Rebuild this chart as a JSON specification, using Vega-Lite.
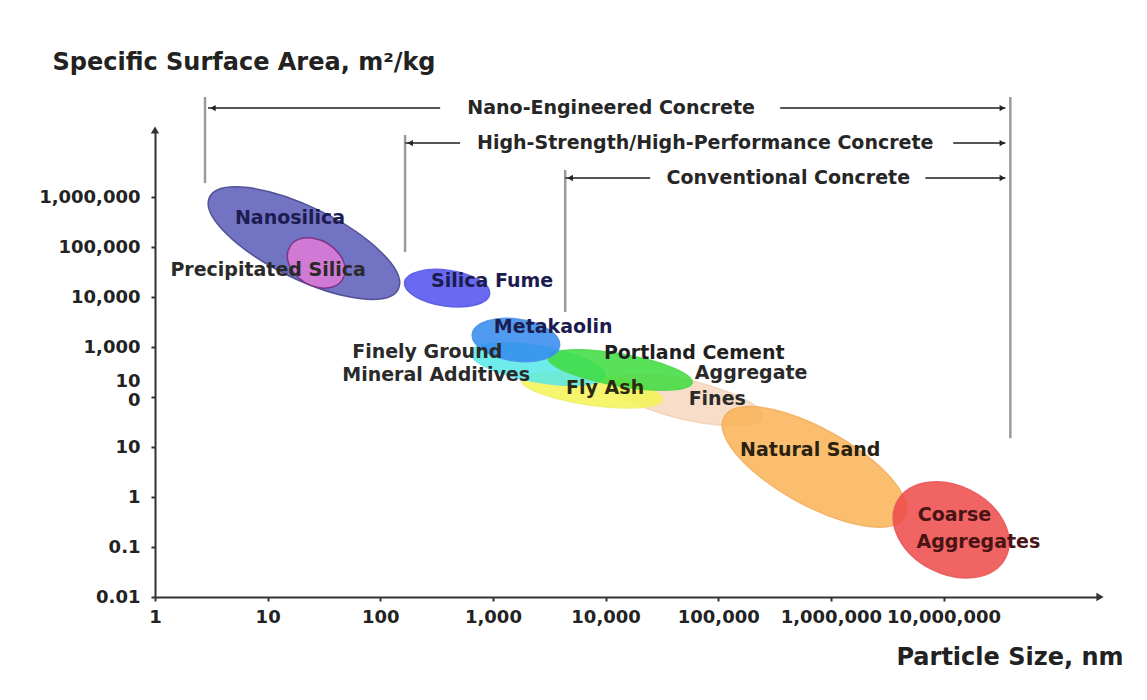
{
  "$schema": "https://vega.github.io/schema/vega-lite/v6.json",
  "width": 945,
  "height": 467,
  "autosize": {"type": "none"},
  "padding": {"left": 155, "top": 130, "right": 47, "bottom": 103},
  "background": "white",
  "config": {"view": {"stroke": null}, "font": "DejaVu Sans"},
  "datasets": {
    "ellipses": [
      {"material": "Nanosilica", "particle_size_nm": 21, "ssa_m2_per_kg": 120000},
      {"material": "Precipitated Silica", "particle_size_nm": 27, "ssa_m2_per_kg": 48000},
      {"material": "Silica Fume", "particle_size_nm": 392, "ssa_m2_per_kg": 15000},
      {"material": "Aggregate Fines", "particle_size_nm": 53000, "ssa_m2_per_kg": 87},
      {"material": "Natural Sand", "particle_size_nm": 713000, "ssa_m2_per_kg": 4.0},
      {"material": "Coarse Aggregates", "particle_size_nm": 11700000, "ssa_m2_per_kg": 0.22},
      {"material": "Fly Ash", "particle_size_nm": 7600, "ssa_m2_per_kg": 138},
      {"material": "Finely Ground Mineral Additives", "particle_size_nm": 2520, "ssa_m2_per_kg": 457},
      {"material": "Portland Cement", "particle_size_nm": 13500, "ssa_m2_per_kg": 347},
      {"material": "Metakaolin", "particle_size_nm": 1600, "ssa_m2_per_kg": 1380}
    ],
    "labels": [
      {"label": "Nanosilica", "material": "Nanosilica", "particle_size_nm": 15.8, "ssa_m2_per_kg": 380000},
      {"label": "Precipitated Silica", "material": "Precipitated Silica", "particle_size_nm": 10.1, "ssa_m2_per_kg": 34700},
      {"label": "Silica Fume", "material": "Silica Fume", "particle_size_nm": 984, "ssa_m2_per_kg": 20900},
      {"label": "Metakaolin", "material": "Metakaolin", "particle_size_nm": 3430, "ssa_m2_per_kg": 2510},
      {"label": "Finely Ground", "material": "Finely Ground Mineral Additives", "particle_size_nm": 261, "ssa_m2_per_kg": 794},
      {"label": "Mineral Additives", "material": "Finely Ground Mineral Additives", "particle_size_nm": 313, "ssa_m2_per_kg": 275},
      {"label": "Portland Cement", "material": "Portland Cement", "particle_size_nm": 61200, "ssa_m2_per_kg": 759},
      {"label": "Fly Ash", "material": "Fly Ash", "particle_size_nm": 9910, "ssa_m2_per_kg": 151},
      {"label": "Aggregate", "material": "Aggregate Fines", "particle_size_nm": 196000, "ssa_m2_per_kg": 300},
      {"label": "Fines", "material": "Aggregate Fines", "particle_size_nm": 98000, "ssa_m2_per_kg": 91},
      {"label": "Natural Sand", "material": "Natural Sand", "particle_size_nm": 656000, "ssa_m2_per_kg": 8.7},
      {"label": "Coarse", "material": "Coarse Aggregates", "particle_size_nm": 12500000, "ssa_m2_per_kg": 0.437},
      {"label": "Aggregates", "material": "Coarse Aggregates", "particle_size_nm": 20400000, "ssa_m2_per_kg": 0.126}
    ],
    "bracketLines": [
      {"tier": "Nano-Engineered Concrete", "from_nm": 2.96, "to_nm": 340, "level": 60000000},
      {"tier": "Nano-Engineered Concrete", "from_nm": 355000, "to_nm": 35400000, "level": 60000000},
      {"tier": "High-Strength/High-Performance Concrete", "from_nm": 166, "to_nm": 511, "level": 12000000},
      {"tier": "High-Strength/High-Performance Concrete", "from_nm": 12200000, "to_nm": 35400000, "level": 12000000},
      {"tier": "Conventional Concrete", "from_nm": 4380, "to_nm": 24900, "level": 2400000},
      {"tier": "Conventional Concrete", "from_nm": 6900000, "to_nm": 35400000, "level": 2400000}
    ],
    "bracketEdges": [
      {"edge_nm": 2.78, "low": 1900000, "high": 100000000},
      {"edge_nm": 166, "low": 79400, "high": 17400000},
      {"edge_nm": 4380, "low": 5000, "high": 3470000},
      {"edge_nm": 39200000, "low": 15, "high": 100000000}
    ],
    "bracketArrows": [
      {"dir": "left", "at_nm": 3.27, "level": 60000000},
      {"dir": "left", "at_nm": 184, "level": 12000000},
      {"dir": "left", "at_nm": 4850, "level": 2400000},
      {"dir": "right", "at_nm": 33300000, "level": 60000000},
      {"dir": "right", "at_nm": 33300000, "level": 12000000},
      {"dir": "right", "at_nm": 33300000, "level": 2400000}
    ],
    "bracketText": [
      {"label": "Nano-Engineered Concrete", "at_nm": 11200, "level": 60000000},
      {"label": "High-Strength/High-Performance Concrete", "at_nm": 76700, "level": 12000000},
      {"label": "Conventional Concrete", "at_nm": 419000, "level": 2400000}
    ]
  },
  "layer": [
    {
      "data": {"name": "ellipses"},
      "mark": {"type": "point", "filled": true, "size": 40000, "opacity": 1, "fillOpacity": 0.85, "strokeWidth": 1.5, "strokeOpacity": 0.9},
      "encoding": {
        "x": {
          "field": "particle_size_nm", "type": "quantitative",
          "scale": {"type": "log", "domain": [1, 245000000], "nice": false},
          "axis": {
            "values": [1, 10, 100, 1000, 10000, 100000, 1000000, 10000000],
            "format": ",", "grid": false, "labelFlush": false, "labelOverlap": false,
            "labelFont": "DejaVu Sans", "labelFontSize": 18, "labelFontWeight": "bold", "labelColor": "#222222",
            "labelPadding": 7, "tickSize": 4, "tickWidth": 2, "tickColor": "#333333",
            "domainColor": "#333333", "domainWidth": 2,
            "title": "Particle Size, nm", "titleFont": "DejaVu Sans", "titleFontSize": 24, "titleFontWeight": "bold", "titleColor": "#222222",
            "titleAnchor": null, "titleAlign": "right", "titleBaseline": "middle", "titleX": 968, "titleY": 60
          }
        },
        "y": {
          "field": "ssa_m2_per_kg", "type": "quantitative",
          "scale": {"type": "log", "domain": [0.01, 21900000], "nice": false},
          "axis": {
            "values": [0.01, 0.1, 1, 10, 100, 1000, 10000, 100000, 1000000],
            "format": ",", "labelExpr": "datum.value == 100 ? ['10', '0'] : datum.label",
            "labelOffset": {"condition": {"test": "datum.value == 100", "value": -16}, "value": 0},
            "grid": false, "labelFlush": false, "labelOverlap": false,
            "labelFont": "DejaVu Sans", "labelFontSize": 18, "labelFontWeight": "bold", "labelColor": "#222222",
            "labelLineHeight": 19, "labelPadding": 11, "tickSize": 4, "tickWidth": 2, "tickColor": "#333333",
            "domainColor": "#333333", "domainWidth": 2,
            "title": "Specific Surface Area, m²/kg", "titleFont": "DejaVu Sans", "titleFontSize": 24, "titleFontWeight": "bold", "titleColor": "#222222",
            "titleAngle": 0, "titleAnchor": null, "titleAlign": "left", "titleBaseline": "middle", "titleX": -103, "titleY": -68
          }
        },
        "shape": {
          "field": "material", "type": "nominal", "legend": null,
          "scale": {
            "domain": ["Nanosilica", "Precipitated Silica", "Silica Fume", "Aggregate Fines", "Natural Sand", "Coarse Aggregates", "Fly Ash", "Finely Ground Mineral Additives", "Portland Cement", "Metakaolin"],
            "range": [
              "M0.944,0.46A1.05,0.36,26,1,1,-0.944,-0.46A1.05,0.36,26,1,1,0.944,0.46Z",
              "M0.263,0.164A0.31,0.22,32,1,1,-0.263,-0.164A0.31,0.22,32,1,1,0.263,0.164Z",
              "M0.426,0.06A0.43,0.18,8,1,1,-0.426,-0.06A0.43,0.18,8,1,1,0.426,0.06Z",
              "M0.75,0.173A0.77,0.19,13,1,1,-0.75,-0.173A0.77,0.19,13,1,1,0.75,0.173Z",
              "M0.901,0.499A1.03,0.38,29,1,1,-0.901,-0.499A1.03,0.38,29,1,1,0.901,0.499Z",
              "M0.544,0.277A0.61,0.44,27,1,1,-0.544,-0.277A0.61,0.44,27,1,1,0.544,0.277Z",
              "M0.703,0.099A0.71,0.15,8,1,1,-0.703,-0.099A0.71,0.15,8,1,1,0.703,0.099Z",
              "M0.67,0.118A0.68,0.18,10,1,1,-0.67,-0.118A0.68,0.18,10,1,1,0.67,0.118Z",
              "M0.719,0.127A0.73,0.16,10,1,1,-0.719,-0.127A0.73,0.16,10,1,1,0.719,0.127Z",
              "M0.436,0.061A0.44,0.21,8,1,1,-0.436,-0.061A0.44,0.21,8,1,1,0.436,0.061Z"
            ]
          }
        },
        "fill": {
          "field": "material", "type": "nominal", "legend": null,
          "scale": {
            "domain": ["Nanosilica", "Precipitated Silica", "Silica Fume", "Aggregate Fines", "Natural Sand", "Coarse Aggregates", "Fly Ash", "Finely Ground Mineral Additives", "Portland Cement", "Metakaolin"],
            "range": ["#5b5bba", "#e07ad8", "#4f4fee", "#f7d8bf", "#f9b355", "#ee4949", "#f4f455", "#55e8e8", "#3ddc3d", "#318aee"]
          }
        },
        "stroke": {
          "field": "material", "type": "nominal", "legend": null,
          "scale": {
            "domain": ["Nanosilica", "Precipitated Silica", "Silica Fume", "Aggregate Fines", "Natural Sand", "Coarse Aggregates", "Fly Ash", "Finely Ground Mineral Additives", "Portland Cement", "Metakaolin"],
            "range": ["#46468f", "#7a2f82", "#5a5ae0", "#f3d2b6", "#f2b060", "#e85a5a", "#f0f070", "#6ae6e6", "#50d850", "#4a94ea"]
          }
        }
      }
    },
    {
      "data": {"name": "bracketEdges"},
      "mark": {"type": "rule", "color": "#9a9a9a", "strokeWidth": 2.5},
      "encoding": {
        "x": {"field": "edge_nm", "type": "quantitative"},
        "y": {"field": "low", "type": "quantitative"},
        "y2": {"field": "high"}
      }
    },
    {
      "data": {"name": "bracketLines"},
      "mark": {"type": "rule", "color": "#555555", "strokeWidth": 2},
      "encoding": {
        "x": {"field": "from_nm", "type": "quantitative"},
        "x2": {"field": "to_nm"},
        "y": {"field": "level", "type": "quantitative"}
      }
    },
    {
      "data": {"name": "bracketArrows"},
      "transform": [{"filter": "datum.dir == 'left'"}],
      "mark": {"type": "point", "shape": "triangle-left", "filled": true, "size": 40, "color": "#222222", "opacity": 1},
      "encoding": {
        "x": {"field": "at_nm", "type": "quantitative"},
        "y": {"field": "level", "type": "quantitative"}
      }
    },
    {
      "data": {"name": "bracketArrows"},
      "transform": [{"filter": "datum.dir == 'right'"}],
      "mark": {"type": "point", "shape": "triangle-right", "filled": true, "size": 40, "color": "#222222", "opacity": 1},
      "encoding": {
        "x": {"field": "at_nm", "type": "quantitative"},
        "y": {"field": "level", "type": "quantitative"}
      }
    },
    {
      "data": {"name": "bracketText"},
      "mark": {"type": "text", "font": "DejaVu Sans", "fontWeight": "bold", "fontSize": 19, "color": "#262626", "align": "center", "baseline": "middle"},
      "encoding": {
        "x": {"field": "at_nm", "type": "quantitative"},
        "y": {"field": "level", "type": "quantitative"},
        "text": {"field": "label"}
      }
    },
    {
      "data": {"name": "labels"},
      "mark": {"type": "text", "font": "DejaVu Sans", "fontWeight": "bold", "fontSize": 19, "align": "center", "baseline": "middle"},
      "encoding": {
        "x": {"field": "particle_size_nm", "type": "quantitative"},
        "y": {"field": "ssa_m2_per_kg", "type": "quantitative"},
        "text": {"field": "label"},
        "color": {
          "field": "material", "type": "nominal", "legend": null,
          "scale": {
            "domain": ["Nanosilica", "Precipitated Silica", "Silica Fume", "Metakaolin", "Finely Ground Mineral Additives", "Portland Cement", "Fly Ash", "Aggregate Fines", "Natural Sand", "Coarse Aggregates"],
            "range": ["#1c1c50", "#2a2a2a", "#1c1c50", "#1c1c50", "#2a2a2a", "#1f1f1f", "#2a2a10", "#2a2a2a", "#2a2210", "#4a1414"]
          }
        }
      }
    },
    {
      "data": {"values": [{}]},
      "mark": {"type": "point", "shape": "triangle-right", "filled": true, "size": 70, "color": "#333333", "opacity": 1},
      "encoding": {
        "x": {"datum": 245000000, "type": "quantitative"},
        "y": {"datum": 0.01, "type": "quantitative"}
      }
    },
    {
      "data": {"values": [{}]},
      "mark": {"type": "point", "shape": "triangle-up", "filled": true, "size": 70, "color": "#333333", "opacity": 1},
      "encoding": {
        "x": {"datum": 1, "type": "quantitative"},
        "y": {"datum": 21900000, "type": "quantitative"}
      }
    }
  ]
}
